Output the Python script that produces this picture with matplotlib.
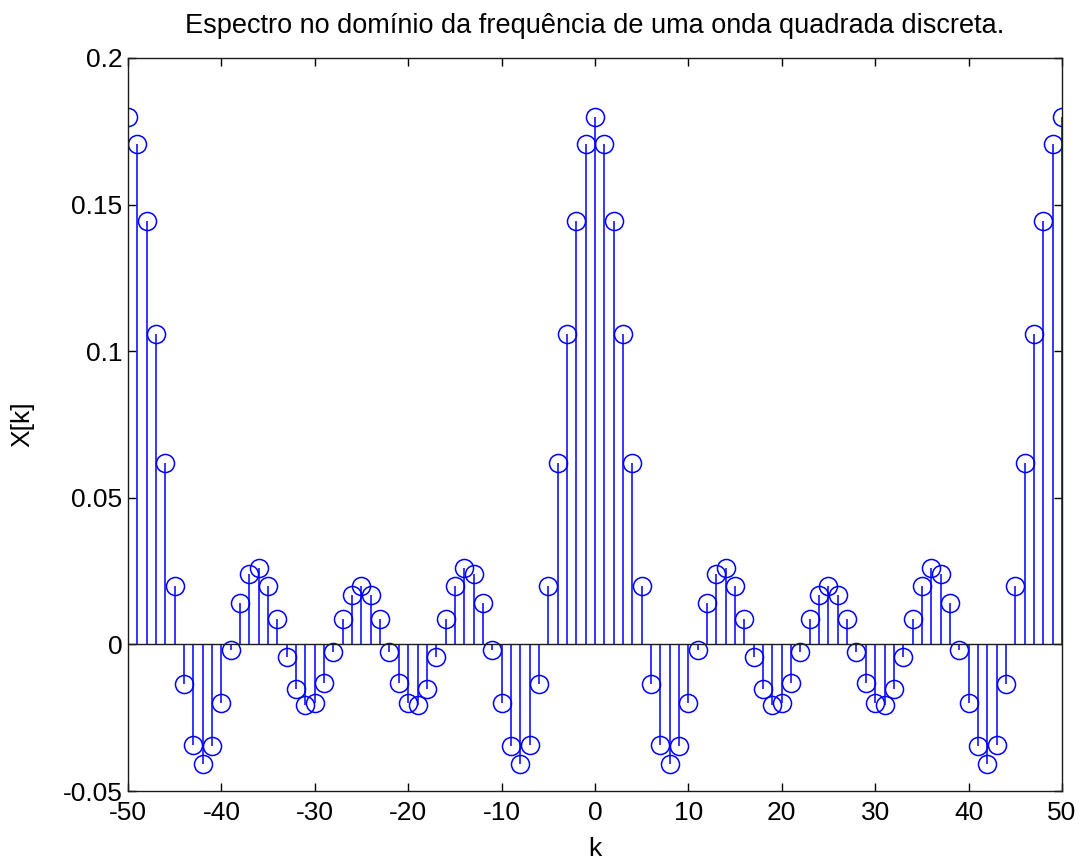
import matplotlib
matplotlib.use("Agg")
from matplotlib import pyplot as plt

plt.rcParams['font.family'] = ['Liberation Sans', 'DejaVu Sans']
plt.rcParams['axes.unicode_minus'] = False

k = list(range(-50, 51))
X = [0.18, 0.1707, 0.1444, 0.1059, 0.0620, 0.02, -0.0135, -0.0342, -0.0408, -0.0347,
     -0.02, -0.0020, 0.0141, 0.0240, 0.0259, 0.02, 0.0087, -0.0043, -0.0151, -0.0208,
     -0.02, -0.0132, -0.0026, 0.0086, 0.0169, 0.02, 0.0169, 0.0086, -0.0026, -0.0132,
     -0.02, -0.0208, -0.0151, -0.0043, 0.0087, 0.02, 0.0259, 0.0240, 0.0141, -0.0020,
     -0.02, -0.0347, -0.0408, -0.0342, -0.0135, 0.02, 0.0620, 0.1059, 0.1444, 0.1707,
     0.18, 0.1707, 0.1444, 0.1059, 0.0620, 0.02, -0.0135, -0.0342, -0.0408, -0.0347,
     -0.02, -0.0020, 0.0141, 0.0240, 0.0259, 0.02, 0.0087, -0.0043, -0.0151, -0.0208,
     -0.02, -0.0132, -0.0026, 0.0086, 0.0169, 0.02, 0.0169, 0.0086, -0.0026, -0.0132,
     -0.02, -0.0208, -0.0151, -0.0043, 0.0087, 0.02, 0.0259, 0.0240, 0.0141, -0.0020,
     -0.02, -0.0347, -0.0408, -0.0342, -0.0135, 0.02, 0.0620, 0.1059, 0.1444, 0.1707,
     0.18]
xticks = [-50, -40, -30, -20, -10, 0, 10, 20, 30, 40, 50]
yticks = [-0.05, 0, 0.05, 0.1, 0.15, 0.2]
ytick_labels = ["-0.05", "0", "0.05", "0.1", "0.15", "0.2"]

fig = plt.figure(figsize=(10.8, 8.63), dpi=100)
ax = fig.add_axes([0.1185, 0.0834, 0.8648, 0.8494])

markers, stems, base = ax.stem(k, X, linefmt='b-', markerfmt='bo', basefmt='k-')
plt.setp(stems, linewidth=1.1, color='#0000ff')
plt.setp(markers, markersize=13, markerfacecolor='none', markeredgecolor='#0000ff', markeredgewidth=1.1)
plt.setp(base, linewidth=1.0, color='#1a1a1a')

ax.set_xlim(-50, 50)
ax.set_ylim(-0.05, 0.2)
ax.set_xticks(xticks)
ax.set_yticks(yticks)
ax.set_yticklabels(ytick_labels)
ax.tick_params(direction='in', length=6, width=1, top=True, right=True, labelsize=19)
ax.tick_params(axis='x', pad=7)
ax.tick_params(axis='y', pad=4)
for s in ax.spines.values():
    s.set_color('#1a1a1a')
    s.set_linewidth(1.0)

ax.set_title("Espectro no domínio da frequência de uma onda quadrada discreta.", fontsize=19.5, pad=18)
ax.set_xlabel("k", fontsize=19, labelpad=9)
ax.set_ylabel("X[k]", fontsize=19, labelpad=20)

fig.savefig("out.png", dpi=100)
